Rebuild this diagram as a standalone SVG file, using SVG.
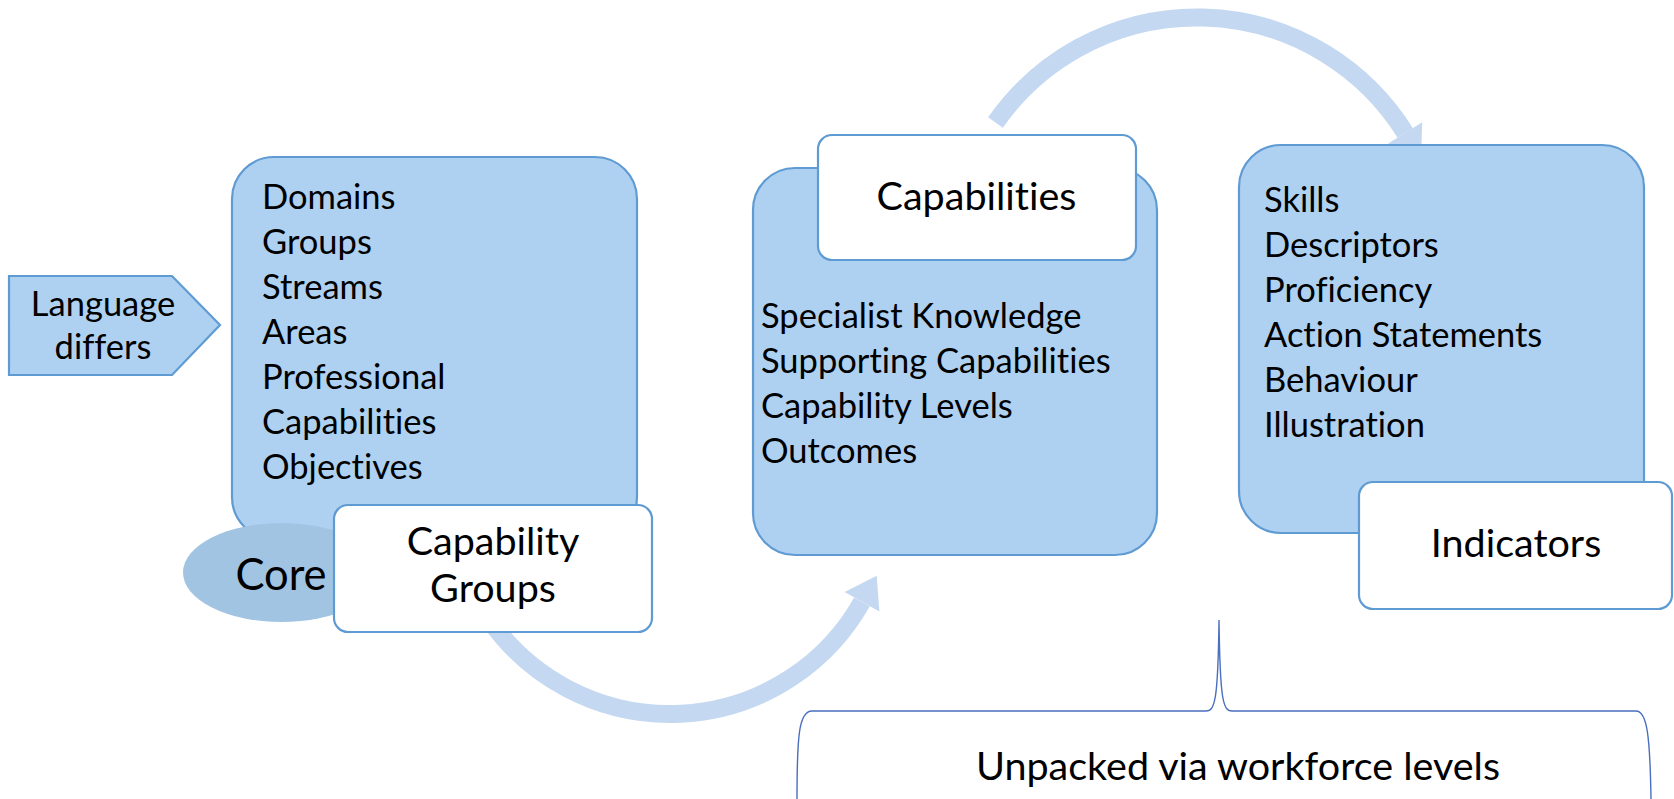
<svg xmlns="http://www.w3.org/2000/svg" width="1674" height="799" viewBox="0 0 1674 799">
  <style>
    .panel { fill: #afd1f1; stroke: #5f9bd3; stroke-width: 2.2; }
    .label { fill: #ffffff; stroke: #5f9bd3; stroke-width: 2.2; }
    .core { fill: #a2c4e3; stroke: none; }
    .flow { fill: none; stroke: #c4d9f1; stroke-width: 18; stroke-linecap: butt; }
    .head { fill: #c4d9f1; stroke: none; }
    .brace { fill: none; stroke: #4a6fbf; stroke-width: 1.4; }
    text { font-family: Lato, "Liberation Sans", sans-serif; fill: #000000; font-variant-ligatures: none; }
    .list { font-size: 34.5px; }
    .big { font-size: 39.5px; text-anchor: middle; }
    .small { font-size: 34.5px; text-anchor: middle; }
    .huge { font-size: 43.5px; text-anchor: middle; }
  </style>

  <!-- curved flow arrows (drawn beneath the boxes) -->
  <g id="connectors">
    <path class="flow" d="M 995.5 122.5 A 245.6 245.6 0 0 1 1405.2 132.9"/>
    <polygon class="head" points="1422.2,122.3 1421.1,158.3 1388.2,143.5"/>
    <path class="flow" d="M 489.6 620.1 A 220.3 220.3 0 0 0 862 601.8"/>
    <polygon class="head" points="844.6,592 876.7,575.7 879.4,611.6"/>
  </g>

  <!-- left pointer -->
  <g id="language-differs">
    <polygon class="panel" points="9,276 172,276 220,325 172,375 9,375"/>
    <text class="small" x="103" y="316">Language</text>
    <text class="small" x="103" y="359">differs</text>
  </g>

  <!-- left panel -->
  <g id="groups-panel">
    <rect class="panel" x="232" y="157" width="405" height="382" rx="42" ry="42"/>
    <text class="list" x="262" y="209">Domains</text>
    <text class="list" x="262" y="254">Groups</text>
    <text class="list" x="262" y="299">Streams</text>
    <text class="list" x="262" y="344">Areas</text>
    <text class="list" x="262" y="389">Professional</text>
    <text class="list" x="262" y="434">Capabilities</text>
    <text class="list" x="262" y="479">Objectives</text>
  </g>

  <g id="core">
    <ellipse class="core" cx="281.5" cy="572.5" rx="98.5" ry="49.5"/>
    <text class="huge" x="281" y="590">Core</text>
  </g>

  <g id="capability-groups">
    <rect class="label" x="334" y="505" width="318" height="127" rx="14" ry="14"/>
    <text class="big" x="493" y="555">Capability</text>
    <text class="big" x="493" y="602">Groups</text>
  </g>

  <!-- centre panel -->
  <g id="capabilities-panel">
    <rect class="panel" x="753" y="168" width="404" height="387" rx="42" ry="42"/>
    <text class="list" x="761" y="328">Specialist Knowledge</text>
    <text class="list" x="761" y="373">Supporting Capabilities</text>
    <text class="list" x="761" y="418">Capability Levels</text>
    <text class="list" x="761" y="463">Outcomes</text>
  </g>

  <g id="capabilities">
    <rect class="label" x="818" y="135" width="318" height="125" rx="14" ry="14"/>
    <text class="big" x="976.5" y="210">Capabilities</text>
  </g>

  <!-- right panel -->
  <g id="indicators-panel">
    <rect class="panel" x="1239" y="145" width="405" height="388" rx="42" ry="42"/>
    <text class="list" x="1264" y="212">Skills</text>
    <text class="list" x="1264" y="257">Descriptors</text>
    <text class="list" x="1264" y="302">Proficiency</text>
    <text class="list" x="1264" y="347">Action Statements</text>
    <text class="list" x="1264" y="392">Behaviour</text>
    <text class="list" x="1264" y="437">Illustration</text>
  </g>

  <g id="indicators">
    <rect class="label" x="1359" y="482" width="313" height="127" rx="14" ry="14"/>
    <text class="big" x="1516" y="557">Indicators</text>
  </g>

  <!-- brace with caption -->
  <g id="workforce-levels">
    <path class="brace" d="M 797 799 C 797 735 799 711 812 711 L 1206 711 C 1215 711 1218 700 1219 620 C 1220 700 1223 711 1232 711 L 1636 711 C 1647 711 1650 735 1651 799"/>
    <text class="big" x="1238" y="780">Unpacked via workforce levels</text>
  </g>
</svg>
